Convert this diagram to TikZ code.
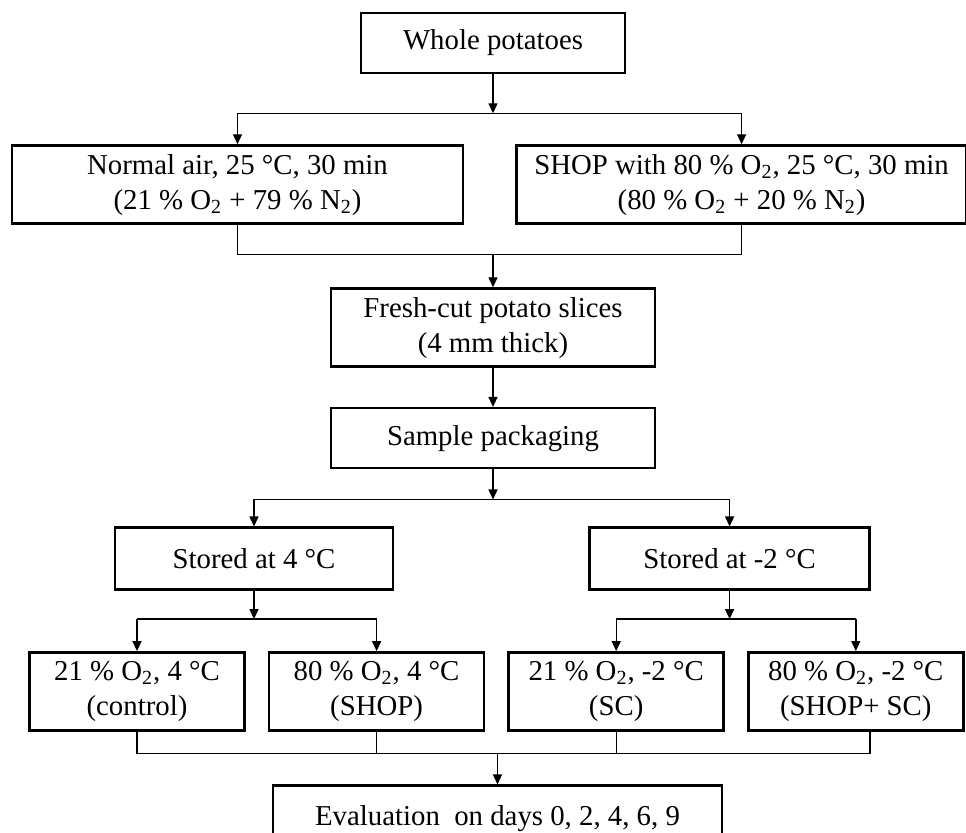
\documentclass[tikz,border=0pt]{standalone}
\usepackage{fontspec}
\setmainfont{Liberation Serif}
\usetikzlibrary{arrows.meta, positioning}
\tikzset{
    stepbox/.style={rectangle, draw=black, line width=1.3pt, fill=white,
                    align=center, inner sep=0pt,
                    font=\fontsize{14.4}{17.5}\selectfont},
    onebox/.style={stepbox, minimum height=30pt},
    twobox/.style={stepbox, minimum height=39pt},
    storebox/.style={stepbox, minimum height=31pt},
    arrow/.style={-{Triangle[length=5pt, width=4.5pt]}, line width=0.7pt},
    link/.style={line width=0.7pt},
}

\begin{document}
\begin{tikzpicture}[
        node distance=20pt and 11pt
    ]
        \useasboundingbox (0,0) rectangle (483pt,-416.5pt);
        \node[onebox, minimum width=132pt] (whole) at (246.5pt,-21.5pt)
            {Whole potatoes};
        \node[twobox, minimum width=225.5pt, below=35pt of whole, xshift=-127.75pt] (normal)
            {Normal air, 25 °C, 30 min\\
            (21 \% O\textsubscript{2} + 79 \% N\textsubscript{2})};
        \node[twobox, minimum width=225pt, right=25.5pt of normal] (shop)
            {SHOP with 80 \% O\textsubscript{2}, 25 °C, 30 min\\
            (80 \% O\textsubscript{2} + 20 \% N\textsubscript{2})};
        \node[twobox, minimum width=162pt, below=106.5pt of whole] (fresh)
            {Fresh-cut potato slices\\
            (4 mm thick)};
        \node[onebox, minimum width=162pt, below=19.5pt of fresh] (pack)
            {Sample packaging};
        \node[storebox, minimum width=139pt, below=28.5pt of pack, xshift=-119.5pt] (cold4)
            {Stored at 4 °C};
        \node[storebox, minimum width=140pt, right=97pt of cold4] (coldm2)
            {Stored at -2 °C};
        \node[twobox, minimum width=107.5pt, below=30pt of cold4, xshift=-58.5pt] (ctrl)
            {21 \% O\textsubscript{2}, 4 °C\\
            (control)};
        \node[twobox, minimum width=107.5pt, right=of ctrl] (shop4)
            {80 \% O\textsubscript{2}, 4 °C\\
            (SHOP)};
        \node[twobox, minimum width=107.5pt, right=of shop4] (sc)
            {21 \% O\textsubscript{2}, -2 °C\\
            (SC)};
        \node[twobox, minimum width=107.5pt, right=of sc] (shopsc)
            {80 \% O\textsubscript{2}, -2 °C\\
            (SHOP+ SC)};
        \node[stepbox, minimum width=224.5pt, minimum height=33pt, below=157.5pt of pack, xshift=2.25pt] (eval)
            {Evaluation~ on days 0, 2, 4, 6, 9};
        % branch points
        \coordinate[below=19.5pt of whole] (fork1);
        \coordinate[above=16.5pt of fresh] (join1);
        \coordinate[below=15pt of pack] (fork2);
        \coordinate[below=14pt of cold4] (fork3);
        \coordinate[below=14pt of coldm2] (fork4);
        \coordinate[above=15.5pt of eval] (join2);
        % pre-treatment
        \draw[arrow] (whole) -- (fork1);
        \draw[link] (fork1 -| normal) -- (fork1 -| shop);
        \draw[arrow] (fork1 -| normal) -- (normal);
        \draw[arrow] (fork1 -| shop) -- (shop);
        \draw[link] (normal.south) |- (join1) -| (shop.south);
        \draw[arrow] (join1) -- (fresh);
        \draw[arrow] (fresh) -- (pack);
        % storage
        \draw[arrow] (pack) -- (fork2);
        \draw[link] (fork2 -| cold4) -- (fork2 -| coldm2);
        \draw[arrow] (fork2 -| cold4) -- (cold4);
        \draw[arrow] (fork2 -| coldm2) -- (coldm2);
        \draw[arrow] (cold4) -- (fork3);
        \draw[link] (fork3 -| ctrl) -- (fork3 -| shop4);
        \draw[arrow] (fork3 -| ctrl) -- (ctrl);
        \draw[arrow] (fork3 -| shop4) -- (shop4);
        \draw[arrow] (coldm2) -- (fork4);
        \draw[link] (fork4 -| sc) -- (fork4 -| shopsc);
        \draw[arrow] (fork4 -| sc) -- (sc);
        \draw[arrow] (fork4 -| shopsc) -- (shopsc);
        % evaluation
        \draw[link] (ctrl.south) |- (join2) -| ([xshift=7pt]shopsc.south);
        \draw[link] (shop4.south) -- (shop4.south |- join2);
        \draw[link] (sc.south) -- (sc.south |- join2);
        \draw[arrow] (join2) -- (eval);
    \end{tikzpicture}
\end{document}
